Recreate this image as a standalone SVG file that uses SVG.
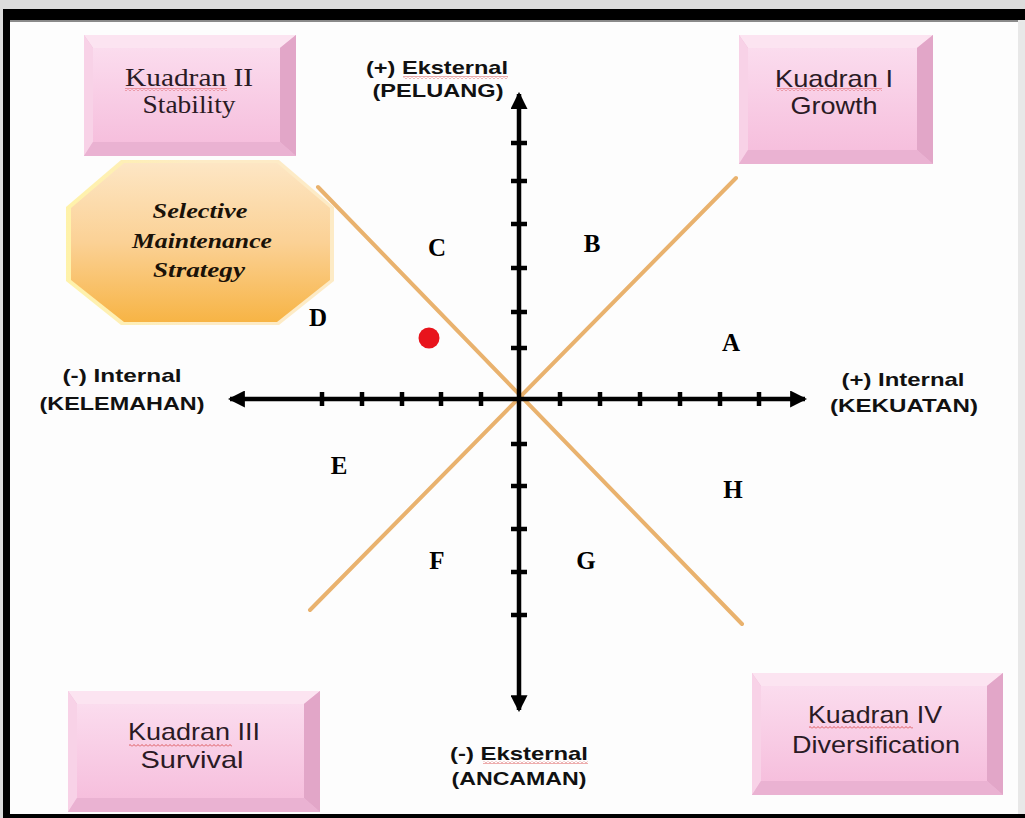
<svg xmlns="http://www.w3.org/2000/svg" width="1025" height="818" viewBox="0 0 1025 818">
<style>
.face{fill:url(#pinkFace)}
.bt{fill:#fce4f1}
.bl{fill:#f8d2e7}
.br{fill:#e2a6c8}
.bb{fill:#eab2d2}
.qs{font-family:"Liberation Sans",Arial,sans-serif;font-size:24px;fill:#2a1a24;text-anchor:middle}
.qt{font-family:"Liberation Serif","Times New Roman",serif;font-size:25px;fill:#2a1a24;text-anchor:middle}
.ax{font-family:"Liberation Sans",Arial,sans-serif;font-size:19px;font-weight:bold;fill:#111;text-anchor:middle}
.let{font-family:"Liberation Serif","Times New Roman",serif;font-size:25px;font-weight:bold;fill:#000;text-anchor:middle}
.smt{font-family:"Liberation Serif","Times New Roman",serif;font-size:22px;font-weight:bold;font-style:italic;fill:#1a1208;text-anchor:middle}
.axis{stroke:#000;stroke-width:4.5;fill:none}
.tick{stroke:#000;stroke-width:4.5}
.diag{stroke:#e9b26e;stroke-width:4;stroke-linecap:round}
.wavy{fill:url(#zig)}
</style>
<defs>
<linearGradient id="pinkFace" x1="0" y1="0" x2="0" y2="1">
<stop offset="0" stop-color="#fbdcee"/>
<stop offset="1" stop-color="#f6bfdd"/>
</linearGradient>
<linearGradient id="orangeFace" x1="0" y1="0" x2="0" y2="1">
<stop offset="0" stop-color="#fde6c4"/>
<stop offset="0.5" stop-color="#fbd195"/>
<stop offset="1" stop-color="#f7b445"/>
</linearGradient>
<linearGradient id="glow" x1="0" y1="0" x2="1" y2="0">
<stop offset="0" stop-color="#fff1a0"/>
<stop offset="0.5" stop-color="#fde9c0"/>
<stop offset="1" stop-color="#fde9c0"/>
</linearGradient>
<pattern id="zig" width="4" height="3" patternUnits="userSpaceOnUse">
<path d="M0,2.5 L2,0.5 L4,2.5" fill="none" stroke="#d94c4c" stroke-width="0.9"/>
</pattern>
<marker id="arr" viewBox="0 0 16 16" refX="14" refY="8" markerWidth="17" markerHeight="17" markerUnits="userSpaceOnUse" orient="auto">
<path d="M0,0 L16,8 L0,16 Z" fill="#000"/>
</marker>
</defs>

<!-- frame -->
<rect x="0" y="0" width="1025" height="818" fill="#dcdcdc"/>
<rect x="3" y="9" width="1022" height="809" fill="#000"/>
<rect x="10" y="20" width="1008" height="794" fill="#fdfdfd"/>
<rect x="10" y="20" width="1008" height="2" fill="#8a8a8a"/>
<rect x="1018" y="20" width="7" height="794" fill="#e8e8e8"/>

<!-- connectors: diagonals and axes -->
<g id="connectors">
<line class="diag" x1="318" y1="187" x2="742" y2="624"/>
<line class="diag" x1="310" y1="610" x2="736" y2="178"/>
<line class="axis" x1="520" y1="399" x2="230" y2="399" marker-end="url(#arr)"/>
<line class="axis" x1="520" y1="399" x2="805" y2="399" marker-end="url(#arr)"/>
<line class="axis" x1="519" y1="399" x2="519" y2="94" marker-end="url(#arr)"/>
<line class="axis" x1="519" y1="399" x2="519" y2="710" marker-end="url(#arr)"/>
<g id="ticks-h">
<line class="tick" x1="322" y1="392" x2="322" y2="406"/>
<line class="tick" x1="362" y1="392" x2="362" y2="406"/>
<line class="tick" x1="402" y1="392" x2="402" y2="406"/>
<line class="tick" x1="441" y1="392" x2="441" y2="406"/>
<line class="tick" x1="481" y1="392" x2="481" y2="406"/>
<line class="tick" x1="560" y1="392" x2="560" y2="406"/>
<line class="tick" x1="600" y1="392" x2="600" y2="406"/>
<line class="tick" x1="640" y1="392" x2="640" y2="406"/>
<line class="tick" x1="680" y1="392" x2="680" y2="406"/>
<line class="tick" x1="720" y1="392" x2="720" y2="406"/>
<line class="tick" x1="759" y1="392" x2="759" y2="406"/>
</g>
<g id="ticks-v">
<line class="tick" x1="511" y1="143" x2="527" y2="143"/>
<line class="tick" x1="511" y1="181" x2="527" y2="181"/>
<line class="tick" x1="511" y1="224" x2="527" y2="224"/>
<line class="tick" x1="511" y1="268" x2="527" y2="268"/>
<line class="tick" x1="511" y1="312" x2="527" y2="312"/>
<line class="tick" x1="511" y1="348" x2="527" y2="348"/>
<line class="tick" x1="511" y1="444" x2="527" y2="444"/>
<line class="tick" x1="511" y1="486" x2="527" y2="486"/>
<line class="tick" x1="511" y1="529" x2="527" y2="529"/>
<line class="tick" x1="511" y1="572" x2="527" y2="572"/>
<line class="tick" x1="511" y1="615" x2="527" y2="615"/>
</g>
</g>

<!-- axis labels -->
<g id="label-top">
<text class="ax" x="437" y="74" textLength="142" lengthAdjust="spacingAndGlyphs">(+) Eksternal</text>
<rect class="wavy" x="403" y="76" width="105" height="3"/>
<text class="ax" x="438" y="97" textLength="131" lengthAdjust="spacingAndGlyphs">(PELUANG)</text>
</g>
<g id="label-left">
<text class="ax" x="122" y="382" textLength="119" lengthAdjust="spacingAndGlyphs">(-) Internal</text>
<text class="ax" x="122" y="410" textLength="165" lengthAdjust="spacingAndGlyphs">(KELEMAHAN)</text>
</g>
<g id="label-right">
<text class="ax" x="903" y="386" textLength="123" lengthAdjust="spacingAndGlyphs">(+) Internal</text>
<text class="ax" x="904" y="412" textLength="148" lengthAdjust="spacingAndGlyphs">(KEKUATAN)</text>
</g>
<g id="label-bottom">
<text class="ax" x="519" y="760" textLength="138" lengthAdjust="spacingAndGlyphs">(-) Eksternal</text>
<rect class="wavy" x="483" y="761" width="105" height="3"/>
<text class="ax" x="519" y="785" textLength="135" lengthAdjust="spacingAndGlyphs">(ANCAMAN)</text>
</g>

<!-- Kuadran II -->
<g id="kuadran-2">
<rect x="84" y="35" width="212" height="121" fill="#efb9d8"/>
<polygon class="bt" points="84,35 296,35 280,48 93,48"/>
<polygon class="bl" points="84,35 93,48 93,142 84,156"/>
<polygon class="br" points="296,35 296,156 280,142 280,48"/>
<polygon class="bb" points="84,156 296,156 280,142 93,142"/>
<rect class="face" x="93" y="48" width="187" height="94"/>
<text class="qt" x="189" y="86" textLength="128" lengthAdjust="spacingAndGlyphs">Kuadran II</text>
<rect class="wavy" x="125" y="88" width="102" height="3"/>
<text class="qt" x="189" y="113" textLength="93" lengthAdjust="spacingAndGlyphs">Stability</text>
</g>

<!-- Kuadran I -->
<g id="kuadran-1">
<rect x="739" y="35" width="194" height="129" fill="#efb9d8"/>
<polygon class="bt" points="739,35 933,35 917,48 748,48"/>
<polygon class="bl" points="739,35 748,48 748,150 739,164"/>
<polygon class="br" points="933,35 933,164 917,150 917,48"/>
<polygon class="bb" points="739,164 933,164 917,150 748,150"/>
<rect class="face" x="748" y="48" width="169" height="102"/>
<text class="qs" x="834" y="87" textLength="118" lengthAdjust="spacingAndGlyphs">Kuadran I</text>
<rect class="wavy" x="776" y="88" width="106" height="3"/>
<text class="qs" x="834" y="114" textLength="87" lengthAdjust="spacingAndGlyphs">Growth</text>
</g>

<!-- Kuadran III -->
<g id="kuadran-3">
<rect x="68" y="691" width="252" height="121" fill="#efb9d8"/>
<polygon class="bt" points="68,691 320,691 304,704 77,704"/>
<polygon class="bl" points="68,691 77,704 77,798 68,812"/>
<polygon class="br" points="320,691 320,812 304,798 304,704"/>
<polygon class="bb" points="68,812 320,812 304,798 77,798"/>
<rect class="face" x="77" y="704" width="227" height="94"/>
<text class="qs" x="194" y="740" textLength="132" lengthAdjust="spacingAndGlyphs">Kuadran III</text>
<rect class="wavy" x="129" y="744" width="103" height="3"/>
<text class="qs" x="192" y="768" textLength="103" lengthAdjust="spacingAndGlyphs">Survival</text>
</g>

<!-- Kuadran IV -->
<g id="kuadran-4">
<rect x="752" y="673" width="251" height="122" fill="#efb9d8"/>
<polygon class="bt" points="752,673 1003,673 987,686 761,686"/>
<polygon class="bl" points="752,673 761,686 761,781 752,795"/>
<polygon class="br" points="1003,673 1003,795 987,781 987,686"/>
<polygon class="bb" points="752,795 1003,795 987,781 761,781"/>
<rect class="face" x="761" y="686" width="226" height="95"/>
<text class="qs" x="875" y="723" textLength="134" lengthAdjust="spacingAndGlyphs">Kuadran IV</text>
<rect class="wavy" x="809" y="726" width="104" height="3"/>
<text class="qs" x="876" y="753" textLength="168" lengthAdjust="spacingAndGlyphs">Diversification</text>
</g>

<!-- Selective Maintenance Strategy -->
<g id="strategy">
<polygon points="121,160 279,160 334,207 334,281 279,325 121,325 66,281 66,207" fill="url(#glow)" opacity="0.9"/>
<polygon points="124,163 277,163 330,208 330,280 277,322 124,322 71,280 71,208" fill="url(#orangeFace)"/>
<text class="smt" x="200" y="218" textLength="95" lengthAdjust="spacingAndGlyphs">Selective</text>
<text class="smt" x="202" y="248" textLength="140" lengthAdjust="spacingAndGlyphs">Maintenance</text>
<text class="smt" x="199" y="277" textLength="92" lengthAdjust="spacingAndGlyphs">Strategy</text>
</g>

<!-- region letters -->
<g id="letters">
<text class="let" x="437" y="256">C</text>
<text class="let" x="592" y="252">B</text>
<text class="let" x="318" y="326">D</text>
<text class="let" x="731" y="351">A</text>
<text class="let" x="339" y="474">E</text>
<text class="let" x="733" y="498">H</text>
<text class="let" x="437" y="569">F</text>
<text class="let" x="586" y="569">G</text>
</g>

<!-- position marker -->
<g id="position">
<circle cx="429" cy="338" r="10.5" fill="#e8141c"/>
</g>
</svg>
